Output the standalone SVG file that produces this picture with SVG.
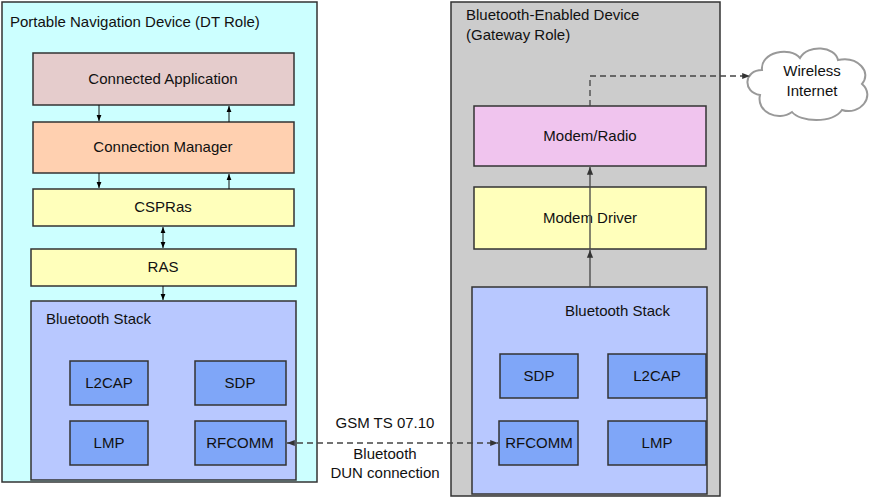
<svg xmlns="http://www.w3.org/2000/svg" width="875" height="498" viewBox="0 0 875 498">
<defs>
<marker id="ah" viewBox="0 0 10 10" refX="10" refY="5" markerWidth="6" markerHeight="6" orient="auto-start-reverse"><path d="M0,1 L10,5 L0,9 z" fill="#000"/></marker>
<marker id="ahg" viewBox="0 0 10 10" refX="10" refY="5" markerWidth="6" markerHeight="6" orient="auto-start-reverse"><path d="M0,1 L10,5 L0,9 z" fill="#333"/></marker>
</defs>
<style>
text{font-family:"Liberation Sans",Arial,sans-serif;font-size:15px;fill:#111}
.c{text-anchor:middle}
rect{stroke:#333;stroke-width:1.5}
.ln{stroke:#111;stroke-width:1;fill:none}
.gl{stroke:#444;stroke-width:1.3;fill:none}
.d{stroke-dasharray:6,4}
.blk{fill:#7fa6f8}
</style>
<g id="pnd"><rect x="2" y="2" width="315" height="480" fill="#ccffff"/><text x="10" y="27">Portable Navigation Device (DT Role)</text></g>
<g id="app"><rect x="33" y="53" width="261" height="52" fill="#e5cccc"/><text class="c" x="163" y="84">Connected Application</text></g>
<g id="cm"><rect x="33" y="122" width="261" height="51" fill="#ffd0b0"/><text class="c" x="163" y="152">Connection Manager</text></g>
<g id="cspras"><rect x="33" y="189" width="261" height="37" fill="#ffffbb"/><text class="c" x="163" y="212">CSPRas</text></g>
<g id="ras"><rect x="31" y="249" width="265" height="37" fill="#ffffbb"/><text class="c" x="163" y="272">RAS</text></g>
<g id="bts1"><rect x="31" y="301" width="265" height="179" fill="#b8c8ff"/><text x="46" y="324">Bluetooth Stack</text></g>
<g id="l2cap1"><rect class="blk" x="70" y="361" width="78" height="44"/><text class="c" x="109" y="388">L2CAP</text></g>
<g id="sdp1"><rect class="blk" x="195" y="361" width="91" height="44"/><text class="c" x="240" y="388">SDP</text></g>
<g id="lmp1"><rect class="blk" x="70" y="421" width="78" height="44"/><text class="c" x="109" y="448">LMP</text></g>
<g id="rfcomm1"><rect class="blk" x="195" y="421" width="91" height="44"/><text class="c" x="240" y="448">RFCOMM</text></g>
<g id="gw"><rect x="451" y="2" width="269" height="494" fill="#cccccc"/><text x="466" y="20">Bluetooth-Enabled Device</text><text x="466" y="40">(Gateway Role)</text></g>
<g id="modem"><rect x="474" y="106" width="232" height="60" fill="#f0c4ee"/><text class="c" x="590" y="141">Modem/Radio</text></g>
<g id="driver"><rect x="474" y="187" width="232" height="62" fill="#ffffbb"/><text class="c" x="590" y="223">Modem Driver</text></g>
<g id="bts2"><rect x="472" y="287" width="235" height="207" fill="#b8c8ff"/><text x="565" y="316">Bluetooth Stack</text></g>
<g id="sdp2"><rect class="blk" x="500" y="354" width="78" height="44"/><text class="c" x="539" y="381">SDP</text></g>
<g id="l2cap2"><rect class="blk" x="608" y="354" width="98" height="44"/><text class="c" x="657" y="381">L2CAP</text></g>
<g id="rfcomm2"><rect class="blk" x="499" y="421" width="79" height="44"/><text class="c" x="539" y="448">RFCOMM</text></g>
<g id="lmp2"><rect class="blk" x="608" y="421" width="98" height="44"/><text class="c" x="657" y="448">LMP</text></g>
<g id="cloud"><path d="M760,95 C742,92 744,70 762,70 C760,52 790,46 800,58 C808,44 835,46 838,60 C858,56 872,72 862,84 C876,96 860,116 842,110 C832,124 800,122 792,112 C778,122 756,112 760,95 z" fill="#fff" stroke="#999" stroke-width="2"/><text class="c" x="812" y="76">Wireless</text><text class="c" x="812" y="96">Internet</text></g>
<g id="connectors">
<line class="ln" x1="99" y1="105" x2="99" y2="121" marker-end="url(#ah)"/>
<line class="ln" x1="229" y1="122" x2="229" y2="106" marker-end="url(#ah)"/>
<line class="ln" x1="99" y1="173" x2="99" y2="188" marker-end="url(#ah)"/>
<line class="ln" x1="229" y1="189" x2="229" y2="174" marker-end="url(#ah)"/>
<line class="ln" x1="163" y1="227" x2="163" y2="248" marker-start="url(#ah)" marker-end="url(#ah)"/>
<line class="ln" x1="163" y1="286" x2="163" y2="300" marker-end="url(#ah)"/>
<line class="gl" x1="590" y1="249" x2="590" y2="167" marker-end="url(#ahg)"/>
<line class="gl" x1="590" y1="287" x2="590" y2="250" marker-end="url(#ahg)"/>
<polyline class="gl d" points="590,106 590,76 750,76" marker-end="url(#ahg)"/>
<line class="gl d" x1="287" y1="443" x2="498" y2="443" marker-start="url(#ahg)" marker-end="url(#ahg)"/>
<text class="c" x="385" y="428">GSM TS 07.10</text>
<text class="c" x="385" y="459">Bluetooth</text>
<text class="c" x="385" y="478">DUN connection</text>
</g>
</svg>
